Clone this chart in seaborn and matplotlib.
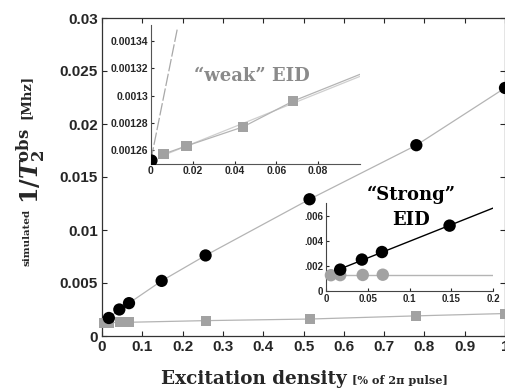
import numpy as np
import pandas as pd
import matplotlib
matplotlib.use("Agg")
import matplotlib.pyplot as plt
import seaborn as sns

# Simulated 1/T2 for strong and weak EID versus excitation density
strong_x = [0.017, 0.043, 0.067, 0.148, 0.257, 0.515, 0.78, 1.0]
strong_y = [0.0017, 0.0025, 0.0031, 0.0052, 0.0076, 0.0129, 0.0180, 0.0234]

weak_x = [0.0059, 0.017, 0.044, 0.068, 0.257, 0.515, 0.78, 1.0]
weak_y = [0.001257, 0.001263, 0.001277, 0.001296, 0.00145, 0.00160, 0.00190, 0.00212]

# steep strong-EID segment seen near the origin of the weak zoom
strong_zoom_x = [0.0, 0.0127]
strong_zoom_y = [0.001253, 0.00135]

main_xticks = [0, 0.1, 0.2, 0.3, 0.4, 0.5, 0.6, 0.7, 0.8, 0.9, 1.0]
main_xticklabels = ["0", "0.1", "0.2", "0.3", "0.4", "0.5", "0.6", "0.7", "0.8", "0.9", "1"]
main_yticks = [0, 0.005, 0.01, 0.015, 0.02, 0.025, 0.03]
main_yticklabels = ["0", "0.005", "0.01", "0.015", "0.02", "0.025", "0.03"]

weak_xticks = [0, 0.02, 0.04, 0.06, 0.08]
weak_xticklabels = ["0", "0.02", "0.04", "0.06", "0.08"]
weak_yticks = [0.00126, 0.00128, 0.0013, 0.00132, 0.00134]
weak_yticklabels = ["0.00126", "0.00128", "0.0013", "0.00132", "0.00134"]

strong_xticks = [0, 0.05, 0.1, 0.15, 0.2]
strong_xticklabels = ["0", "0.05", "0.1", "0.15", "0.2"]
strong_yticks = [0, 0.002, 0.004, 0.006]
strong_yticklabels = ["0", ".002", ".004", ".006"]

sns.set_style("ticks")
plt.rcParams["font.family"] = ["Liberation Sans", "DejaVu Sans"]
plt.rcParams["mathtext.fontset"] = "dejavuserif"

BLACK = "#000000"
GRAY = "#a2a2a2"
LINE_GRAY = "#b4b4b4"
TEXT_GRAY = "#8a8a8a"
SERIF = "DejaVu Serif"

W, H = 505, 388
fig = plt.figure(figsize=(W / 100, H / 100), dpi=100)


def px_axes(left, top, right, bottom):
    return fig.add_axes([left / W, (H - bottom) / H, (right - left) / W, (bottom - top) / H])


def style_ticks(ax, size, length, pad):
    ax.tick_params(direction="in", length=length, width=0.8, pad=pad, labelsize=size)
    for lab in ax.get_xticklabels() + ax.get_yticklabels():
        lab.set_fontweight("bold")


strong_df = pd.DataFrame({"x": strong_x, "y": strong_y})
weak_df = pd.DataFrame({"x": weak_x, "y": weak_y})

# ---------------- main panel ----------------
ax = px_axes(102, 18, 505, 336)
sns.lineplot(data=weak_df, x="x", y="y", ax=ax, color=LINE_GRAY, lw=0.9, sort=False)
sns.lineplot(data=strong_df, x="x", y="y", ax=ax, color=LINE_GRAY, lw=0.9, sort=False)
sns.scatterplot(data=weak_df, x="x", y="y", ax=ax, color=GRAY, marker="s", s=52,
                edgecolor="none", zorder=3, clip_on=False)
sns.scatterplot(data=strong_df, x="x", y="y", ax=ax, color=BLACK, marker="o", s=78,
                edgecolor="none", zorder=4, clip_on=False)
ax.set_xlim(0, 1.0)
ax.set_ylim(0, 0.03)
ax.set_xticks(main_xticks)
ax.set_xticklabels(main_xticklabels)
ax.set_yticks(main_yticks)
ax.set_yticklabels(main_yticklabels)
ax.set_xlabel("")
ax.set_ylabel("")
ax.tick_params(top=True, right=True)
style_ticks(ax, 11, 3.5, 3)
for sp in ax.spines.values():
    sp.set_visible(True)
    sp.set_linewidth(0.9)
    sp.set_color("#333333")

# ---------------- weak EID zoom ----------------
axw = px_axes(151, 25, 360, 163.6)
wz = weak_df.iloc[:4]
fit_w = np.polyfit(wz["x"], wz["y"], 1)
xf = np.array([wz["x"].iloc[0], 0.1])
sns.lineplot(x=xf, y=np.polyval(fit_w, xf), ax=axw, color="#cfcfcf", lw=0.9)
sns.lineplot(x=list(wz["x"]) + [0.1], y=list(wz["y"]) + [np.polyval(fit_w, 0.1) + 0.0000015],
             ax=axw, color=LINE_GRAY, lw=0.9, sort=False)
axw.plot(strong_zoom_x, strong_zoom_y, color="#a8a8a8", lw=0.9, ls=(0, (10, 2)))
sns.scatterplot(data=wz, x="x", y="y", ax=axw, color=GRAY, marker="s", s=60,
                edgecolor="none", zorder=3)
axw.scatter(strong_zoom_x[:1], strong_zoom_y[:1], color=BLACK, s=60, zorder=4, clip_on=True)
axw.set_xlim(0, 0.1)
axw.set_ylim(0.00125, 0.001352)
axw.set_xticks(weak_xticks)
axw.set_xticklabels(weak_xticklabels)
axw.set_yticks(weak_yticks)
axw.set_yticklabels(weak_yticklabels)
axw.set_xlabel("")
axw.set_ylabel("")
style_ticks(axw, 7.5, 2, 2)
axw.set_facecolor("white")
for side in ("top", "right"):
    axw.spines[side].set_visible(False)
for side in ("left", "bottom"):
    axw.spines[side].set_linewidth(0.8)
    axw.spines[side].set_color("#555555")

# ---------------- strong EID zoom ----------------
axs = px_axes(326, 203, 493, 291)
sz = strong_df.iloc[:4]
fit_s = np.polyfit(sz["x"], sz["y"], 1)
xs = np.array([sz["x"].iloc[0], 0.2])
sns.lineplot(x=xs, y=np.polyval(fit_s, xs), ax=axs, color=BLACK, lw=1.0)
weak_level = float(np.mean(weak_y[:4]))
sns.lineplot(x=[0, 0.2], y=[weak_level, weak_level], ax=axs, color=LINE_GRAY, lw=1.0)
sns.scatterplot(x=weak_x[:4], y=weak_y[:4], ax=axs, color=GRAY, marker="o", s=80,
                edgecolor="none", zorder=3, clip_on=False)
sns.scatterplot(data=sz, x="x", y="y", ax=axs, color=BLACK, marker="o", s=80,
                edgecolor="none", zorder=4, clip_on=False)
axs.set_xlim(0, 0.2)
axs.set_ylim(0, 0.007)
axs.set_xticks(strong_xticks)
axs.set_xticklabels(strong_xticklabels)
axs.set_yticks(strong_yticks)
axs.set_yticklabels(strong_yticklabels)
axs.set_xlabel("")
axs.set_ylabel("")
style_ticks(axs, 7, 2, 2)
axs.set_facecolor("none")
for side in ("top", "right"):
    axs.spines[side].set_visible(False)
for side in ("left", "bottom"):
    axs.spines[side].set_linewidth(0.8)
    axs.spines[side].set_color("#444444")

# ---------------- annotations ----------------
def ftext(x, y, s, **kw):
    return fig.text(x / W, (H - y) / H, s, **kw)


ftext(252, 76, "\u201cweak\u201d EID", color=TEXT_GRAY, fontsize=13, fontweight="bold",
      family=SERIF, ha="center", va="center")
ftext(411, 195, "\u201cStrong\u201d", color=BLACK, fontsize=13, fontweight="bold",
      family=SERIF, ha="center", va="center")
ftext(411, 220, "EID", color=BLACK, fontsize=13, fontweight="bold",
      family=SERIF, ha="center", va="center")

# y-axis label built from pieces of different sizes
ftext(27, 237, "simulated", rotation=90, fontsize=7.5, fontweight="bold",
      family=SERIF, ha="center", va="center")
ftext(31, 166, r"$\mathbf{1/}\mathbfit{T}_{\mathbf{2}}^{\mathbf{obs}}$", rotation=90,
      fontsize=17, ha="center", va="center")
ftext(26, 97, "[Mhz]", rotation=90, fontsize=9.5, fontweight="bold",
      family=SERIF, ha="center", va="center")

# x-axis label
ftext(347, 384, "Excitation density", fontsize=13.2, fontweight="bold",
      family=SERIF, ha="right", va="baseline")
ftext(352, 384, "[% of 2\u03c0 pulse]", fontsize=8.1, fontweight="bold",
      family=SERIF, ha="left", va="baseline")

fig.savefig("out.png", dpi=100)
